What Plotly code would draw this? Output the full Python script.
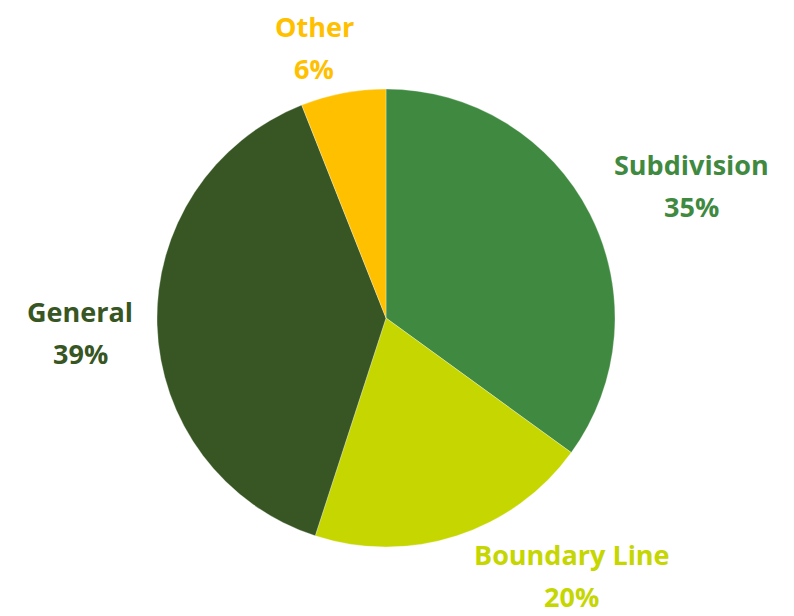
import math
import plotly.graph_objects as go

labels = ["Subdivision", "Boundary Line", "General", "Other"]
values = [35, 20, 39, 6]
colors = ["#3F8A40", "#C5D600", "#375623", "#FFC000"]

# page body has an 8px margin; work in screen pixels, then offset
OFF = 8
W, H = 794 - OFF, 616 - OFF
CX, CY, R = 386 - OFF, 318 - OFF, 229

fig = go.Figure(go.Pie(
    labels=labels, values=values, sort=False, direction="clockwise", rotation=0,
    marker=dict(colors=colors, line=dict(color="rgba(255,255,255,0.6)", width=0.5)),
    textinfo="none", hoverinfo="label+percent", showlegend=False,
    domain=dict(x=[(CX - R) / W, (CX + R) / W], y=[(H - CY - R) / H, (H - CY + R) / H]),
))

# label block centre offsets from the rim point at each slice's mid-angle (style)
offsets = {"Subdivision": (101, -29), "Boundary Line": (115, 40), "General": (-77, 7), "Other": (-29, -46)}
PITCH = 42
total = sum(values)
cum = 0
for lab, v, c in zip(labels, values, colors):
    mid = (cum + v / 2) / total * 2 * math.pi
    cum += v
    rx = CX + R * math.sin(mid)
    ry = CY - R * math.cos(mid)
    dx, dy = offsets[lab]
    bx, by = rx + dx, ry + dy
    for txt, yy in ((lab, by - PITCH / 2), (f"{round(v / total * 100)}%", by + PITCH / 2)):
        fig.add_annotation(
            x=bx / W, y=(H - yy) / H, xref="paper", yref="paper",
            text=txt, showarrow=False, xanchor="center", yanchor="middle",
            borderpad=0,
            font=dict(family="Open Sans", size=27, color=c, weight="bold"),
        )

fig.update_layout(
    width=W, height=H, margin=dict(l=0, r=0, t=0, b=0),
    paper_bgcolor="white", plot_bgcolor="white",
)
fig.write_html("out.html")
